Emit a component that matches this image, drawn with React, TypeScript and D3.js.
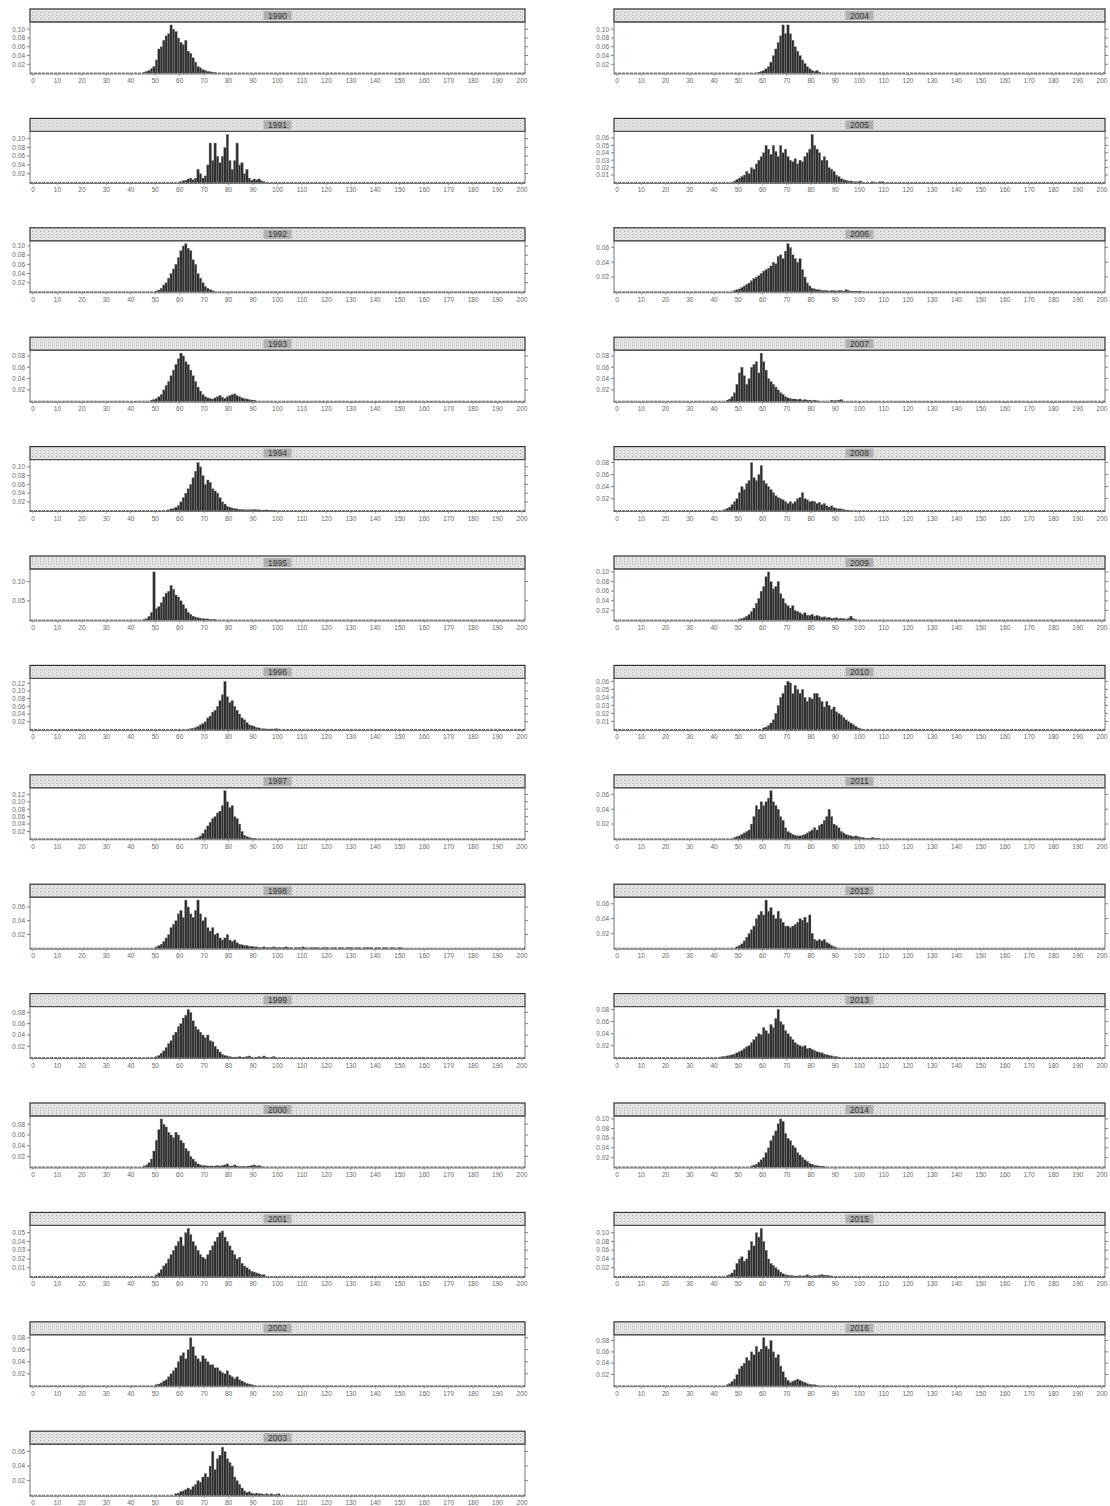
import React from 'react';
import * as d3 from 'd3';

const yearsLeft = [1990, 1991, 1992, 1993, 1994, 1995, 1996, 1997, 1998, 1999, 2000, 2001, 2002, 2003];
const yearsRight = [2004, 2005, 2006, 2007, 2008, 2009, 2010, 2011, 2012, 2013, 2014, 2015, 2016];
const xTicks = [0, 10, 20, 30, 40, 50, 60, 70, 80, 90, 100, 110, 120, 130, 140, 150, 160, 170, 180, 190, 200];

// first bin (bins are 1 unit wide) for each year
const binStart: Record<number, number> = {
  1990: 45, 1991: 60, 1992: 50, 1993: 48, 1994: 55, 1995: 45, 1996: 64, 1997: 66, 1998: 50, 1999: 50,
  2000: 45, 2001: 50, 2002: 50, 2003: 58, 2004: 58, 2005: 48, 2006: 48, 2007: 45, 2008: 44, 2009: 50,
  2010: 60, 2011: 48, 2012: 49, 2013: 42, 2014: 55, 2015: 45, 2016: 45,
};

const d1990 = [0.002, 0.004, 0.006, 0.01, 0.015, 0.03, 0.055, 0.06, 0.075, 0.085, 0.09, 0.11, 0.1, 0.095, 0.08, 0.07, 0.065, 0.075, 0.05, 0.045, 0.035, 0.025, 0.015, 0.012, 0.008, 0.006, 0.004, 0.003, 0.002, 0.001];
const d1991 = [0.002, 0.004, 0.005, 0.008, 0.01, 0.006, 0.01, 0.03, 0.02, 0.01, 0.015, 0.04, 0.09, 0.05, 0.09, 0.06, 0.045, 0.06, 0.08, 0.11, 0.05, 0.03, 0.05, 0.09, 0.04, 0.045, 0.02, 0.03, 0.01, 0.005, 0.008, 0.006, 0.008, 0.004, 0.002];
const d1992 = [0.002, 0.004, 0.008, 0.015, 0.02, 0.03, 0.04, 0.05, 0.06, 0.075, 0.09, 0.1, 0.105, 0.095, 0.09, 0.07, 0.06, 0.04, 0.03, 0.02, 0.012, 0.008, 0.005, 0.003];
const d1993 = [0.002, 0.003, 0.005, 0.008, 0.012, 0.02, 0.028, 0.035, 0.045, 0.055, 0.065, 0.075, 0.085, 0.08, 0.07, 0.065, 0.055, 0.045, 0.035, 0.025, 0.018, 0.012, 0.008, 0.006, 0.005, 0.004, 0.006, 0.008, 0.01, 0.007, 0.005, 0.008, 0.01, 0.012, 0.013, 0.01, 0.008, 0.006, 0.005, 0.004, 0.003, 0.002, 0.002];
const d1994 = [0.002, 0.004, 0.005, 0.008, 0.012, 0.02, 0.03, 0.04, 0.05, 0.06, 0.075, 0.09, 0.11, 0.1, 0.08, 0.06, 0.07, 0.065, 0.05, 0.045, 0.04, 0.03, 0.02, 0.015, 0.01, 0.008, 0.006, 0.005, 0.004, 0.003, 0.003, 0.002, 0.002, 0.002, 0.002, 0.003, 0.002, 0.002, 0.001, 0.001, 0.002, 0.001, 0.001, 0.001];
const d1995 = [0.002, 0.004, 0.01, 0.02, 0.125, 0.03, 0.035, 0.045, 0.06, 0.07, 0.075, 0.09, 0.08, 0.065, 0.06, 0.05, 0.04, 0.03, 0.02, 0.015, 0.01, 0.008, 0.006, 0.005, 0.004, 0.003, 0.003, 0.002, 0.002, 0.001];
const d1996 = [0.002, 0.003, 0.005, 0.008, 0.012, 0.015, 0.02, 0.03, 0.035, 0.045, 0.05, 0.06, 0.075, 0.09, 0.125, 0.085, 0.07, 0.075, 0.06, 0.05, 0.04, 0.03, 0.025, 0.018, 0.012, 0.01, 0.008, 0.005, 0.004, 0.002, 0.002, 0.001, 0.001, 0.001, 0.001, 0.002, 0.001];
const d1997 = [0.002, 0.004, 0.008, 0.015, 0.025, 0.035, 0.045, 0.055, 0.06, 0.07, 0.075, 0.09, 0.13, 0.1, 0.085, 0.09, 0.06, 0.055, 0.04, 0.02, 0.01, 0.006, 0.004, 0.002, 0.001];
const d1998 = [0.002, 0.004, 0.006, 0.01, 0.015, 0.02, 0.03, 0.035, 0.04, 0.05, 0.055, 0.045, 0.07, 0.06, 0.05, 0.045, 0.055, 0.07, 0.05, 0.04, 0.045, 0.03, 0.025, 0.03, 0.02, 0.022, 0.015, 0.012, 0.015, 0.02, 0.012, 0.01, 0.012, 0.008, 0.006, 0.005, 0.004, 0.004, 0.003, 0.003, 0.002,
  0.002, 0.001, 0.001, 0.002, 0.001, 0.001, 0.001, 0.002, 0.001, 0.001, 0.001, 0.001, 0.002, 0.001, 0.001, 0, 0.001, 0.001, 0.001, 0.002, 0.001, 0, 0.001, 0.001, 0.001, 0.001, 0, 0.001, 0.001, 0.001, 0, 0.001, 0.001, 0, 0.001, 0.001, 0, 0.001, 0.001, 0.001, 0, 0.001, 0.001, 0, 0.001, 0.001, 0.001, 0.001, 0, 0.001, 0.001, 0, 0.001, 0.001, 0, 0.001, 0.001, 0, 0.001, 0.001];
const d1999 = [0.002, 0.004, 0.008, 0.012, 0.018, 0.025, 0.03, 0.04, 0.045, 0.055, 0.06, 0.07, 0.075, 0.085, 0.08, 0.065, 0.055, 0.05, 0.045, 0.04, 0.035, 0.04, 0.03, 0.028, 0.02, 0.015, 0.01, 0.006, 0.004, 0.003, 0.002, 0.001, 0.001, 0.001, 0.002, 0.001, 0.001, 0.002, 0.003, 0.001, 0, 0.001, 0.002, 0.001, 0.003, 0.001, 0, 0.001, 0.002];
const d2000 = [0.002, 0.004, 0.008, 0.015, 0.03, 0.05, 0.07, 0.09, 0.08, 0.075, 0.065, 0.06, 0.055, 0.065, 0.06, 0.05, 0.045, 0.035, 0.03, 0.02, 0.015, 0.01, 0.006, 0.004, 0.003, 0.003, 0.002, 0.002, 0.002, 0.002, 0.003, 0.002, 0.003, 0.004, 0.006, 0.002, 0.002, 0.004, 0.002, 0.001, 0.001, 0.001, 0.001, 0.002, 0.003, 0.004, 0.002, 0.003, 0.001];
const d2001 = [0.002, 0.004, 0.008, 0.012, 0.015, 0.02, 0.025, 0.03, 0.035, 0.04, 0.045, 0.035, 0.05, 0.055, 0.048, 0.04, 0.035, 0.03, 0.025, 0.022, 0.02, 0.025, 0.03, 0.035, 0.04, 0.045, 0.05, 0.052, 0.045, 0.04, 0.035, 0.03, 0.025, 0.02, 0.022, 0.015, 0.012, 0.01, 0.008, 0.006, 0.005, 0.004, 0.003, 0.002, 0.002];
const d2002 = [0.002, 0.003, 0.005, 0.008, 0.01, 0.015, 0.02, 0.025, 0.03, 0.04, 0.05, 0.055, 0.045, 0.06, 0.08, 0.065, 0.05, 0.045, 0.04, 0.05, 0.045, 0.04, 0.035, 0.035, 0.03, 0.03, 0.025, 0.022, 0.02, 0.025, 0.018, 0.015, 0.012, 0.015, 0.01, 0.008, 0.006, 0.004, 0.003, 0.002, 0.001];
const d2003 = [0.002, 0.003, 0.005, 0.006, 0.008, 0.01, 0.008, 0.012, 0.015, 0.02, 0.018, 0.025, 0.03, 0.025, 0.04, 0.06, 0.035, 0.05, 0.055, 0.066, 0.06, 0.05, 0.045, 0.04, 0.025, 0.02, 0.015, 0.01, 0.006, 0.004, 0.005, 0.003, 0.002, 0.003, 0.002, 0.002, 0.001, 0.002, 0.001, 0.002, 0.001, 0.001, 0.002];
const d2004 = [0.002, 0.004, 0.006, 0.01, 0.015, 0.025, 0.04, 0.055, 0.07, 0.085, 0.11, 0.09, 0.11, 0.09, 0.075, 0.06, 0.05, 0.04, 0.03, 0.022, 0.015, 0.01, 0.006, 0.004, 0.006, 0.002];
const d2005 = [0.002, 0.004, 0.006, 0.008, 0.01, 0.015, 0.012, 0.02, 0.018, 0.025, 0.03, 0.035, 0.04, 0.05, 0.045, 0.038, 0.05, 0.042, 0.035, 0.05, 0.04, 0.045, 0.035, 0.03, 0.028, 0.032, 0.025, 0.03, 0.028, 0.035, 0.04, 0.045, 0.065, 0.05, 0.045, 0.04, 0.03, 0.035, 0.03, 0.02, 0.018, 0.015, 0.01, 0.008, 0.005, 0.004, 0.003, 0.002, 0.002, 0.001, 0.001, 0.001, 0.002, 0, 0, 0, 0, 0.001, 0, 0, 0.001, 0.001];
const d2006 = [0.002, 0.003, 0.004, 0.006, 0.008, 0.01, 0.012, 0.015, 0.018, 0.02, 0.022, 0.025, 0.028, 0.03, 0.032, 0.035, 0.04, 0.038, 0.048, 0.05, 0.045, 0.055, 0.065, 0.06, 0.05, 0.045, 0.04, 0.045, 0.03, 0.02, 0.012, 0.008, 0.005, 0.004, 0.003, 0.003, 0.002, 0.002, 0.002, 0.001, 0.002, 0.002, 0.001, 0.002, 0.002, 0.001, 0.003, 0.002, 0.001, 0.001, 0.001, 0.001, 0.001];
const d2007 = [0.002, 0.004, 0.008, 0.015, 0.03, 0.05, 0.06, 0.045, 0.03, 0.04, 0.06, 0.065, 0.07, 0.05, 0.085, 0.07, 0.055, 0.04, 0.035, 0.03, 0.025, 0.02, 0.015, 0.012, 0.008, 0.006, 0.005, 0.004, 0.004, 0.003, 0.004, 0.002, 0.003, 0.002, 0.002, 0.001, 0.002, 0.001, 0, 0, 0, 0, 0, 0.002, 0.001, 0.001, 0.002, 0.003];
const d2008 = [0.002, 0.004, 0.006, 0.01, 0.015, 0.02, 0.03, 0.04, 0.035, 0.045, 0.05, 0.08, 0.055, 0.05, 0.06, 0.075, 0.05, 0.045, 0.04, 0.035, 0.03, 0.025, 0.022, 0.02, 0.018, 0.015, 0.012, 0.015, 0.012, 0.015, 0.02, 0.022, 0.03, 0.02, 0.018, 0.015, 0.016, 0.015, 0.012, 0.014, 0.01, 0.012, 0.008, 0.006, 0.008, 0.005, 0.004, 0.003, 0.003, 0.002, 0.001, 0.001];
const d2009 = [0.002, 0.003, 0.005, 0.008, 0.012, 0.018, 0.025, 0.035, 0.045, 0.06, 0.07, 0.09, 0.1, 0.08, 0.065, 0.07, 0.08, 0.055, 0.045, 0.035, 0.03, 0.025, 0.03, 0.02, 0.018, 0.015, 0.012, 0.015, 0.01, 0.01, 0.012, 0.008, 0.01, 0.008, 0.006, 0.007, 0.005, 0.006, 0.004, 0.004, 0.005, 0.003, 0.004, 0.003, 0.002, 0.004, 0.008, 0.003, 0.001];
const d2010 = [0.002, 0.003, 0.005, 0.008, 0.012, 0.02, 0.03, 0.04, 0.045, 0.055, 0.06, 0.058, 0.045, 0.055, 0.05, 0.045, 0.05, 0.04, 0.035, 0.04, 0.038, 0.045, 0.045, 0.04, 0.035, 0.028, 0.035, 0.03, 0.025, 0.028, 0.022, 0.02, 0.018, 0.015, 0.012, 0.01, 0.008, 0.006, 0.004, 0.002, 0.001];
const d2011 = [0.002, 0.003, 0.004, 0.006, 0.008, 0.01, 0.012, 0.02, 0.03, 0.045, 0.04, 0.05, 0.045, 0.05, 0.055, 0.065, 0.05, 0.045, 0.04, 0.03, 0.025, 0.015, 0.01, 0.008, 0.006, 0.005, 0.004, 0.004, 0.005, 0.006, 0.008, 0.01, 0.012, 0.015, 0.012, 0.018, 0.02, 0.025, 0.03, 0.04, 0.03, 0.02, 0.018, 0.015, 0.01, 0.008, 0.006, 0.005, 0.004, 0.003, 0.004, 0.003, 0.002, 0.002, 0.001, 0.001, 0.001, 0.002, 0.001, 0.001];
const d2012 = [0.002, 0.004, 0.006, 0.01, 0.015, 0.02, 0.025, 0.03, 0.04, 0.045, 0.05, 0.045, 0.065, 0.05, 0.055, 0.045, 0.04, 0.05, 0.04, 0.035, 0.03, 0.03, 0.028, 0.03, 0.032, 0.035, 0.04, 0.038, 0.042, 0.035, 0.045, 0.02, 0.012, 0.01, 0.012, 0.01, 0.012, 0.008, 0.006, 0.004, 0.002, 0.001];
const d2013 = [0.001, 0.002, 0.002, 0.003, 0.004, 0.005, 0.006, 0.008, 0.01, 0.012, 0.015, 0.018, 0.02, 0.025, 0.03, 0.035, 0.04, 0.038, 0.05, 0.045, 0.04, 0.055, 0.05, 0.065, 0.08, 0.06, 0.055, 0.045, 0.04, 0.035, 0.03, 0.025, 0.022, 0.02, 0.018, 0.02, 0.015, 0.016, 0.014, 0.012, 0.01, 0.009, 0.008, 0.006, 0.005, 0.004, 0.003, 0.002, 0.002, 0.001];
const d2014 = [0.002, 0.004, 0.006, 0.01, 0.015, 0.02, 0.03, 0.04, 0.055, 0.065, 0.075, 0.09, 0.1, 0.095, 0.07, 0.06, 0.055, 0.045, 0.04, 0.03, 0.025, 0.02, 0.015, 0.012, 0.008, 0.006, 0.004, 0.003, 0.002, 0.002, 0.001];
const d2015 = [0.002, 0.004, 0.008, 0.015, 0.03, 0.04, 0.045, 0.035, 0.04, 0.06, 0.08, 0.07, 0.1, 0.09, 0.11, 0.08, 0.06, 0.04, 0.03, 0.025, 0.02, 0.015, 0.01, 0.006, 0.004, 0.003, 0.002, 0.002, 0.001, 0.001, 0.002, 0.001, 0.002, 0.004, 0.002, 0.001, 0.002, 0.002, 0.003, 0.004, 0.003, 0.003, 0.002, 0.001];
const d2016 = [0.002, 0.004, 0.008, 0.012, 0.02, 0.03, 0.035, 0.04, 0.05, 0.045, 0.06, 0.055, 0.07, 0.06, 0.065, 0.085, 0.07, 0.065, 0.08, 0.06, 0.05, 0.055, 0.035, 0.025, 0.015, 0.01, 0.006, 0.008, 0.01, 0.012, 0.01, 0.008, 0.006, 0.004, 0.003, 0.002, 0.002, 0.001];

const densities: Record<number, number[]> = {
  1990: d1990, 1991: d1991, 1992: d1992, 1993: d1993, 1994: d1994, 1995: d1995, 1996: d1996, 1997: d1997,
  1998: d1998, 1999: d1999, 2000: d2000, 2001: d2001, 2002: d2002, 2003: d2003, 2004: d2004, 2005: d2005,
  2006: d2006, 2007: d2007, 2008: d2008, 2009: d2009, 2010: d2010, 2011: d2011, 2012: d2012, 2013: d2013,
  2014: d2014, 2015: d2015, 2016: d2016,
};

const t5 = [0.02, 0.04, 0.06, 0.08, 0.1];
const t4 = [0.02, 0.04, 0.06, 0.08];
const t3 = [0.02, 0.04, 0.06];
const t6 = [0.02, 0.04, 0.06, 0.08, 0.1, 0.12];
const t6b = [0.01, 0.02, 0.03, 0.04, 0.05, 0.06];
const t5b = [0.01, 0.02, 0.03, 0.04, 0.05];
const tHalf = [0.05, 0.1];

const yTicks: Record<number, number[]> = {
  1990: t5, 1991: t5, 1992: t5, 1993: t4, 1994: t5, 1995: tHalf, 1996: t6, 1997: t6, 1998: t3, 1999: t4,
  2000: t4, 2001: t5b, 2002: t4, 2003: t3, 2004: t5, 2005: t6b, 2006: t3, 2007: t4, 2008: t4, 2009: t5,
  2010: t6b, 2011: t3, 2012: t3, 2013: t4, 2014: t5, 2015: t5, 2016: t4,
};

const W = 1110;
const H = 1506;
const TOP0 = 9;
const STEP = 109.4;
const STRIP_H = 13;
const PLOT_H = 52;
const FONT = "'Liberation Sans', Arial, sans-serif";

function Panel({ year, x0, x1, top }: { year: number; x0: number; x1: number; top: number }) {
  const dens = densities[year];
  const start = binStart[year];
  const bins = dens.map((v, i) => ({ lo: start + i, hi: start + i + 1, v }));
  const maxV = d3.max(dens) as number;
  const x = d3.scaleLinear().domain([0, 200]).range([x0 + 3, x1 - 3]);
  const plotTop = top + STRIP_H;
  const plotBot = plotTop + PLOT_H;
  const y = d3.scaleLinear().domain([-0.02 * maxV, maxV * 1.06]).range([plotBot, plotTop]);
  const fmt = d3.format('.2f');
  const midX = (x0 + x1) / 2;
  return (
    <g>
      <rect x={x0} y={top} width={x1 - x0} height={STRIP_H} fill="#e2e2e2" stroke="#333" strokeWidth={1.2} />
      <rect x={x0 + 1} y={top + 2} width={x1 - x0 - 2} height={STRIP_H - 4} fill="url(#dots)" />
      <rect x={midX - 14} y={top + 2} width={28} height={STRIP_H - 4} fill="#b0b0b0" />
      <text x={midX} y={top + STRIP_H / 2 + 3} textAnchor="middle" fontSize={8.5} fontFamily={FONT} fill="#333">{year}</text>
      <rect x={x0} y={plotTop} width={x1 - x0} height={PLOT_H} fill="none" stroke="#555" strokeWidth={0.8} />
      {bins.filter(b => b.v > 0).map((b, i) => (
        <rect key={i} x={x(b.lo)} y={y(b.v)} width={Math.max(0.5, x(b.hi) - x(b.lo))} height={Math.max(0.6, y(0) - y(b.v))}
          fill="#2e2e2e" stroke="#8a8a8a" strokeWidth={0.35} />
      ))}
      <line x1={x0} x2={x1} y1={y(0)} y2={y(0)} stroke="#444" strokeWidth={0.8} strokeDasharray="3 1" />
      {yTicks[year].map(t => (
        <g key={t}>
          <line x1={x0 - 3} x2={x0} y1={y(t)} y2={y(t)} stroke="#555" strokeWidth={0.7} />
          <line x1={x1} x2={x1 + 3} y1={y(t)} y2={y(t)} stroke="#555" strokeWidth={0.7} />
          <text x={x0 - 5} y={y(t) + 2.3} textAnchor="end" fontSize={6.5} fontFamily={FONT} fill="#666">{fmt(t)}</text>
        </g>
      ))}
      {xTicks.map(t => (
        <g key={t}>
          <line x1={x(t)} x2={x(t)} y1={plotBot} y2={plotBot + 2} stroke="#777" strokeWidth={0.6} />
          <text x={x(t)} y={plotBot + 9} textAnchor="middle" fontSize={6.5} fontFamily={FONT} fill="#666">{t}</text>
        </g>
      ))}
    </g>
  );
}

export default function App() {
  return (
    <svg width={W} height={H} style={{ position: 'absolute', left: 0, top: 0, background: '#fff' }}>
      <defs>
        <pattern id="dots" width="4" height="3" patternUnits="userSpaceOnUse">
          <rect width="4" height="3" fill="#e6e6e6" />
          <rect x="0" y="0" width="1" height="1" fill="#aaa" />
          <rect x="2" y="1.5" width="1" height="1" fill="#bbb" />
        </pattern>
      </defs>
      <rect width={W} height={H} fill="#fff" />
      {yearsLeft.map((yr, i) => (
        <Panel key={yr} year={yr} x0={30} x1={525} top={TOP0 + i * STEP} />
      ))}
      {yearsRight.map((yr, i) => (
        <Panel key={yr} year={yr} x0={614} x1={1105} top={TOP0 + i * STEP} />
      ))}
    </svg>
  );
}
